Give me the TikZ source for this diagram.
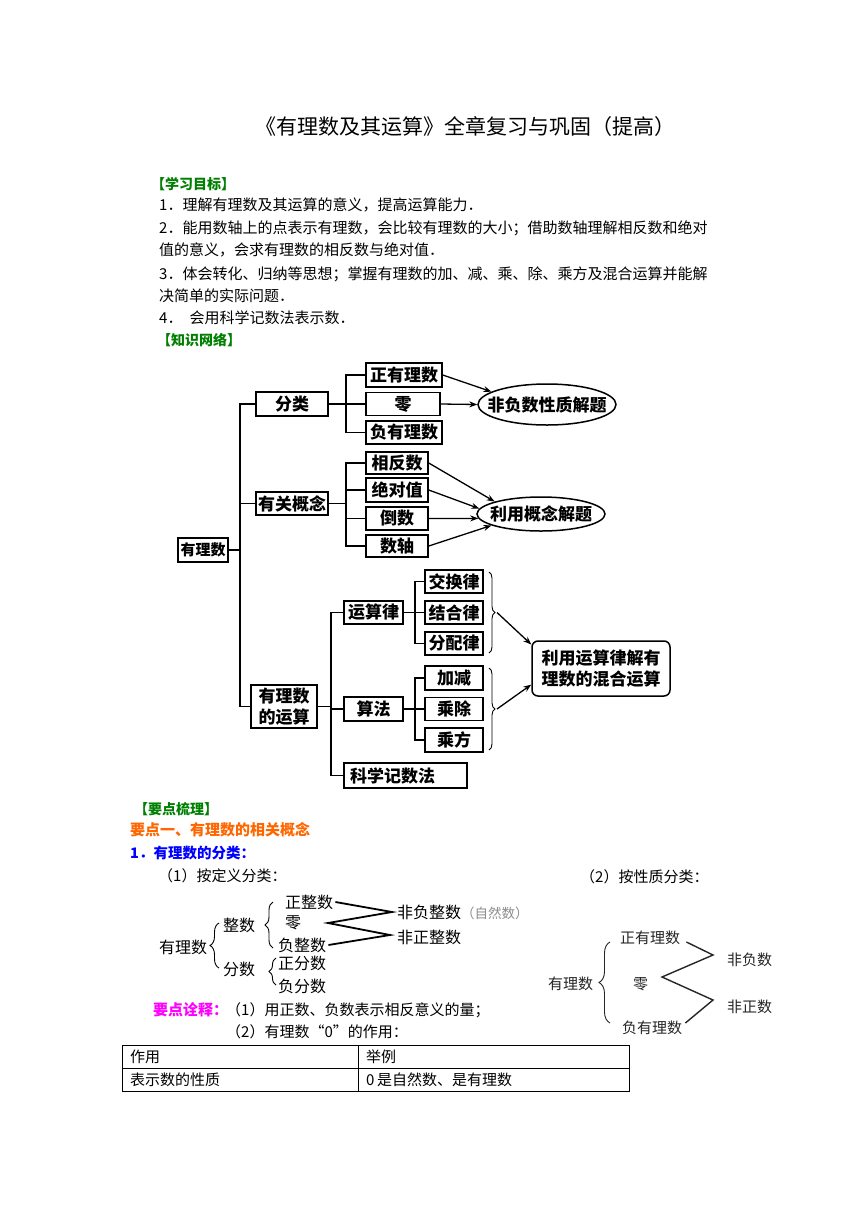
\documentclass[tikz,border=0pt]{standalone}
\usepackage{fontspec}
\setmainfont{Noto Sans CJK SC}
\usetikzlibrary{shapes.geometric,decorations.pathreplacing,arrows.meta}
\definecolor{hgreen}{RGB}{0,128,0}
\definecolor{horange}{RGB}{255,102,0}
\definecolor{hblue}{RGB}{0,0,255}
\definecolor{hmag}{RGB}{255,0,255}
\begin{document}
\begin{tikzpicture}[x=1pt,y=-1pt,
  txt/.style={anchor=west,inner sep=0pt,font=\fontsize{15}{18}\selectfont},
  hd/.style={anchor=west,inner sep=0pt,font=\fontsize{14}{17}\selectfont\bfseries},
  kb/.style={draw,line width=1.5pt,inner sep=0pt,align=center,font=\fontsize{17}{21}\selectfont\bfseries},
  tl/.style={line width=1.4pt},
  ar/.style={line width=1.3pt,-{Stealth[length=8pt,width=6pt]}},
  dt/.style={anchor=west,inner sep=0pt,font=\fontsize{16}{19}\selectfont},
  pt/.style={anchor=west,inner sep=0pt,font=\fontsize{15}{18}\selectfont,text=black!85},
  br/.style={decorate,decoration={brace,amplitude=#1},line width=0.9pt},
  dl/.style={line width=1.8pt,line join=miter},
  cell/.style={anchor=west,inner sep=0pt,font=\fontsize{15}{18}\selectfont}
]
\useasboundingbox (0,0) rectangle (860,1216);
\fill[white] (0,0) rectangle (860,1216);

% ---------- title and objectives ----------
\node[inner sep=0pt,font=\fontsize{21}{25}\selectfont] (title) at (465,127) {《有理数及其运算》全章复习与巩固（提高）};
\node[hd,text=hgreen] (h1) at (151,184) {【学习目标】};
\node[txt] (l1) at (159,205) {1．理解有理数及其运算的意义，提高运算能力．};
\node[txt] (l2) at (159,228) {2．能用数轴上的点表示有理数，会比较有理数的大小；借助数轴理解相反数和绝对};
\node[txt] (l3) at (159,250) {值的意义，会求有理数的相反数与绝对值．};
\node[txt] (l4) at (159,274) {3．体会转化、归纳等思想；掌握有理数的加、减、乘、除、乘方及混合运算并能解};
\node[txt] (l5) at (159,296) {决简单的实际问题．};
\node[txt] (l6) at (159,318) {4．\hspace{7pt}会用科学记数法表示数．};
\node[hd,text=hgreen] (h2) at (157,340) {【知识网络】};

% ---------- knowledge network ----------
\node[kb,minimum width=50pt,minimum height=24pt,font=\fontsize{15}{18}\selectfont\bfseries] (yls) at (203,550) {有理数};
\node[kb,minimum width=72pt,minimum height=24pt] (fl) at (292,404) {分类};
\node[kb,minimum width=72pt,minimum height=23pt] (gn) at (292,503.5) {有关概念};
\node[kb,minimum width=66pt,minimum height=43pt] (ys) at (284,706.5) {有理数\\的运算};

\node[kb,minimum width=76pt,minimum height=24pt] (zy) at (404,375) {正有理数};
\node[kb,minimum width=74pt,minimum height=23pt] (ling) at (403,404) {零};
\node[kb,minimum width=76pt,minimum height=23pt] (fy) at (404,432.5) {负有理数};

\node[kb,minimum width=62pt,minimum height=22pt] (xf) at (397,463) {相反数};
\node[kb,minimum width=62pt,minimum height=24pt] (jd) at (397,490) {绝对值};
\node[kb,minimum width=62pt,minimum height=23pt] (ds) at (397,518.5) {倒数};
\node[kb,minimum width=62pt,minimum height=22pt] (sz) at (397,546) {数轴};

\node[kb,minimum width=59pt,minimum height=23pt] (ysl) at (373.5,612.5) {运算律};
\node[kb,minimum width=59pt,minimum height=24pt] (sf) at (373.5,709) {算法};
\node[kb,minimum height=25pt,text width=111pt,inner xsep=6pt,align=left] (kx) at (405.5,775.5) {科学记数法};

\node[kb,minimum width=58pt,minimum height=23pt] (jh) at (454,581.5) {交换律};
\node[kb,minimum width=58pt,minimum height=23pt] (jhl) at (454,612.5) {结合律};
\node[kb,minimum width=58pt,minimum height=23pt] (fp) at (454,643.5) {分配律};
\node[kb,minimum width=58pt,minimum height=24pt] (jj) at (454,678) {加减};
\node[kb,minimum width=58pt,minimum height=23pt] (cc) at (454,709) {乘除};
\node[kb,minimum width=58pt,minimum height=24pt] (cf) at (454,740) {乘方};

\node[draw,ellipse,line width=1.5pt,minimum width=138pt,minimum height=41pt,inner sep=0pt] (e1) at (547,404.5) {};
\node[inner sep=0pt,font=\fontsize{17}{21}\selectfont\bfseries] (e1t) at (e1) {非负数性质解题};
\node[draw,ellipse,line width=1.5pt,minimum width=128pt,minimum height=34pt,inner sep=0pt] (e2) at (541,514) {};
\node[inner sep=0pt,font=\fontsize{17}{21}\selectfont\bfseries] (e2t) at (e2) {利用概念解题};
\node[kb,rounded corners=6pt,minimum width=138pt,minimum height=55pt] (rb) at (601,668.5) {利用运算律解有\\理数的混合运算};

\coordinate (T) at (240,0);
\coordinate (A) at (346,0);
\coordinate (B) at (331,0);
\coordinate (C) at (415,0);

\draw[tl] (fl.west) -- (fl.west -| T) -- (ys.west -| T) -- (ys.west);
\draw[tl] (gn.west) -- (gn.west -| T);
\draw[tl] (yls.east) -- (yls.east -| T);

\draw[tl] (zy.west) -- (zy.west -| A) -- (fy.west -| A) -- (fy.west);
\draw[tl] (ling.west) -- (ling.west -| A);
\draw[tl] (fl.east) -- (fl.east -| A);

\draw[tl] (xf.west) -- (xf.west -| A) -- (sz.west -| A) -- (sz.west);
\draw[tl] (jd.west) -- (jd.west -| A);
\draw[tl] (ds.west) -- (ds.west -| A);
\draw[tl] (gn.east) -- (gn.east -| A);

\draw[tl] (ysl.west) -- (ysl.west -| B) -- (kx.west -| B) -- (kx.west);
\draw[tl] (sf.west) -- (sf.west -| B);
\draw[tl] (ys.east) -- (ys.east -| B);

\draw[tl] (jh.west) -- (jh.west -| C) -- (fp.west -| C) -- (fp.west);
\draw[tl] (jhl.west) -- (jhl.west -| C);
\draw[tl] (ysl.east) -- (ysl.east -| C);
\draw[tl] (jj.west) -- (jj.west -| C) -- (cf.west -| C) -- (cf.west);
\draw[tl] (cc.west) -- (cc.west -| C);
\draw[tl] (sf.east) -- (sf.east -| C);

\draw[ar] (zy.east) -- (e1.167);
\draw[ar] (ling.east) -- (e1.west);
\draw[ar] (xf.east) -- (e2.165);
\draw[ar] (jd.east) -- (e2.175);
\draw[ar] (ds.east) -- (e2.184);
\draw[ar] (sz.east) -- (e2.193);

\draw[br=6pt] (489,572) -- (489,653);
\draw[br=6pt] (489,668) -- (489,750);
\coordinate (b1) at (497,612.5);
\coordinate (b2) at (497,709);
\draw[ar] (b1) -- (rb.161);
\draw[ar] (b2) -- (rb.193);

% ---------- key points ----------
\node[hd,text=hgreen] (h3) at (134,809) {【要点梳理】};
\node[anchor=west,inner sep=0pt,font=\fontsize{15}{18}\selectfont\bfseries,text=horange] (k1) at (130,830) {要点一、有理数的相关概念};
\node[anchor=west,inner sep=0pt,font=\fontsize{14.5}{18}\selectfont\bfseries,text=hblue] (k2) at (130,853) {1．有理数的分类：};
\node[txt] (k3) at (158,876) {（1）按定义分类：};
\node[txt] (k4) at (580,877) {（2）按性质分类：};

% definition classification
\node[dt] (dyls) at (159,947) {有理数};
\node[dt] (dzs) at (223,925) {整数};
\node[dt] (dfs) at (223,969) {分数};
\node[dt] (dzzs) at (285,902) {正整数};
\node[dt] (dling) at (285,923) {零};
\node[dt] (dfzs) at (278,945) {负整数};
\node[dt] (dzfs) at (278,963) {正分数};
\node[dt] (dffs) at (278,986) {负分数};
\node[dt] (dfu) at (397,912) {非负整数\fontsize{13.5}{16}\selectfont\textcolor{black!45}{（自然数）}};
\node[dt] (dfz) at (397,937) {非正整数};
\draw[br=9pt] (219,968) -- (219,923);
\draw[br=8pt] (273,948) -- (273,902);
\draw[br=7pt] (276,985) -- (276,958);
\coordinate (dj1) at (392,912);
\coordinate (dj2) at (390,935);
\coordinate (dv) at (328,923);
\draw[dl] ([xshift=2pt]dzzs.east) -- (dj1) -- (dv) -- (dj2) -- ([xshift=2pt]dfzs.east);

% property classification
\node[pt] (pyls) at (548,984) {有理数};
\node[pt] (pzy) at (620,938) {正有理数};
\node[pt] (pling) at (633,984) {零};
\node[pt] (pfy) at (622,1028) {负有理数};
\node[pt] (pfu) at (727,960) {非负数};
\node[pt] (pfz) at (727,1007) {非正数};
\draw[br=11pt,black!85] (610,1023) -- (610,942);
\coordinate (pj1) at (713,955);
\coordinate (pj2) at (713,1000);
\coordinate (pv) at (662,977);
\draw[line width=1.4pt,black!85] ([xshift=6pt,yshift=-4pt]pzy.east) -- (pj1) -- (pv) -- (pj2) -- ([xshift=3pt,yshift=5pt]pfy.east);

% notes
\node[anchor=west,inner sep=0pt,font=\fontsize{15}{18}\selectfont\bfseries,text=hmag] (n0) at (153,1010) {要点诠释：};
\node[txt] (n1) at (226,1010) {（1）用正数、负数表示相反意义的量；};
\node[txt] (n2) at (226,1032) {（2）有理数“0”的作用：};

% table
\draw[line width=0.7pt] (122,1045) rectangle (629,1091);
\draw[line width=0.7pt] (122,1068) -- (629,1068);
\draw[line width=0.7pt] (358,1045) -- (358,1091);
\node[cell] (c11) at (130,1056.5) {作用};
\node[cell] (c12) at (366,1056.5) {举例};
\node[cell] (c21) at (130,1079.5) {表示数的性质};
\node[cell] (c22) at (366,1079.5) {0\,是自然数、是有理数};
\end{tikzpicture}
\end{document}
